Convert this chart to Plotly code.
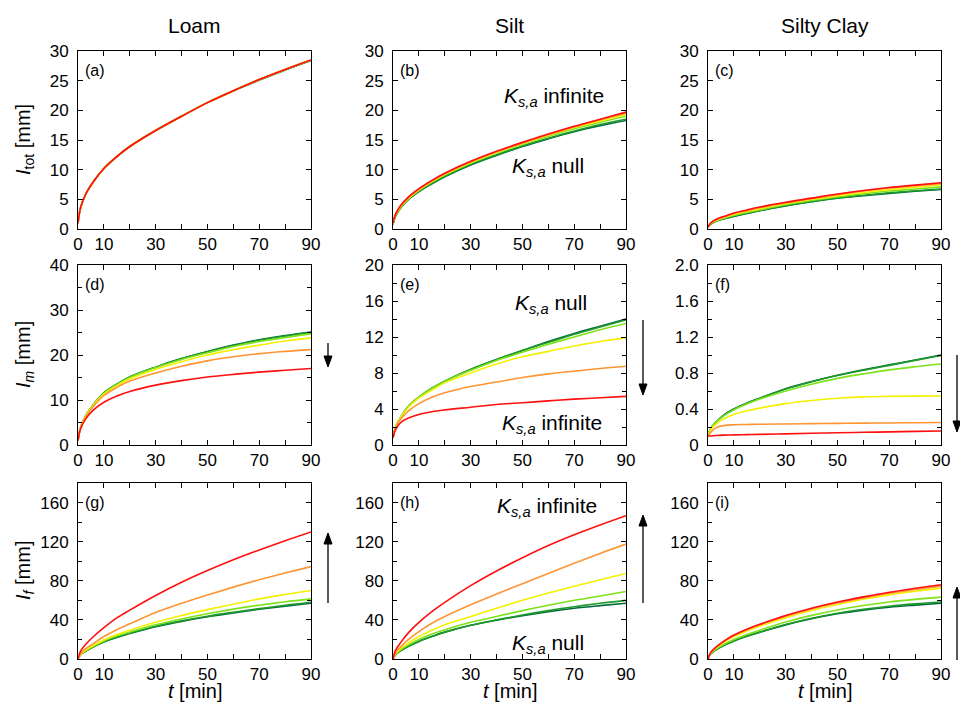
import plotly.graph_objects as go

W, H = 960, 702

# time grid [min]
T = [0, 1, 3, 6, 10, 15, 20, 30, 40, 50, 60, 70, 80, 90]

COLUMNS = ["Loam", "Silt", "Silty Clay"]
PANEL_LABELS = ["(a)", "(b)", "(c)", "(d)", "(e)", "(f)", "(g)", "(h)", "(i)"]
SERIES = ["darkgreen", "green", "lightgreen", "yellow", "orange", "red"]
COLORS = {"darkgreen": "#006b3c", "green": "#1e9a2a", "lightgreen": "#7ee21a",
          "yellow": "#f4f000", "orange": "#ff9433", "red": "#ff1010"}

# ---- (a) I_tot, Loam
a_darkgreen = [1.0, 3.6, 5.9, 8.0, 10.2, 12.2, 13.9, 16.6, 19.0, 21.3, 23.3, 25.1, 26.8, 28.4]
a_green = [1.0, 3.6, 5.9, 8.0, 10.2, 12.2, 13.9, 16.6, 19.0, 21.3, 23.3, 25.1, 26.8, 28.4]
a_lightgreen = [1.0, 3.6, 5.9, 8.0, 10.2, 12.2, 13.9, 16.6, 19.0, 21.3, 23.3, 25.2, 26.9, 28.5]
a_yellow = [1.0, 3.6, 5.9, 8.0, 10.2, 12.2, 13.9, 16.6, 19.0, 21.3, 23.3, 25.2, 26.9, 28.5]
a_orange = [1.0, 3.6, 5.9, 8.0, 10.2, 12.2, 13.9, 16.6, 19.0, 21.3, 23.3, 25.2, 26.9, 28.5]
a_red = [1.0, 3.6, 5.9, 8.0, 10.2, 12.2, 13.9, 16.6, 19.0, 21.3, 23.3, 25.2, 26.9, 28.5]

# ---- (b) I_tot, Silt
b_darkgreen = [0.8, 2.2, 3.6, 5.0, 6.3, 7.6, 8.8, 10.8, 12.4, 13.9, 15.2, 16.4, 17.4, 18.3]
b_green = [0.8, 2.2, 3.6, 5.0, 6.3, 7.7, 8.9, 10.9, 12.5, 14.0, 15.3, 16.5, 17.6, 18.5]
b_lightgreen = [0.9, 2.3, 3.7, 5.1, 6.5, 7.9, 9.1, 11.1, 12.8, 14.3, 15.6, 16.9, 18.0, 19.0]
b_yellow = [0.9, 2.4, 3.8, 5.2, 6.6, 8.0, 9.2, 11.2, 12.9, 14.4, 15.8, 17.1, 18.2, 19.3]
b_orange = [1.0, 2.5, 3.9, 5.3, 6.7, 8.1, 9.3, 11.3, 13.0, 14.5, 15.9, 17.2, 18.4, 19.5]
b_red = [1.0, 2.5, 4.0, 5.4, 6.8, 8.2, 9.4, 11.4, 13.1, 14.6, 16.0, 17.3, 18.5, 19.7]

# ---- (c) I_tot, Silty Clay
c_darkgreen = [0.3, 0.8, 1.3, 1.7, 2.1, 2.6, 3.1, 3.9, 4.6, 5.2, 5.6, 6.0, 6.35, 6.65]
c_green = [0.3, 0.8, 1.3, 1.7, 2.15, 2.65, 3.1, 3.95, 4.65, 5.25, 5.7, 6.1, 6.45, 6.75]
c_lightgreen = [0.3, 0.85, 1.35, 1.8, 2.3, 2.8, 3.25, 4.1, 4.8, 5.4, 5.95, 6.4, 6.75, 7.1]
c_yellow = [0.3, 0.9, 1.45, 1.9, 2.45, 2.95, 3.4, 4.25, 5.0, 5.6, 6.15, 6.65, 7.05, 7.45]
c_orange = [0.3, 0.95, 1.55, 2.0, 2.6, 3.1, 3.6, 4.4, 5.1, 5.8, 6.4, 6.9, 7.3, 7.65]
c_red = [0.3, 1.0, 1.6, 2.1, 2.7, 3.2, 3.7, 4.5, 5.2, 5.9, 6.5, 7.0, 7.4, 7.8]

# ---- (d) I_m, Loam
d_darkgreen = [1.0, 3.9, 6.5, 9.0, 11.6, 13.5, 15.1, 17.3, 19.2, 20.8, 22.2, 23.4, 24.3, 25.1]
d_green = [1.0, 3.9, 6.5, 9.0, 11.6, 13.5, 15.1, 17.3, 19.2, 20.7, 22.1, 23.3, 24.2, 25.0]
d_lightgreen = [1.0, 3.9, 6.5, 9.0, 11.5, 13.4, 15.0, 17.2, 19.0, 20.5, 21.9, 23.0, 23.9, 24.7]
d_yellow = [1.0, 3.9, 6.4, 8.9, 11.3, 13.2, 14.7, 16.8, 18.5, 20.0, 21.2, 22.2, 23.1, 23.8]
d_orange = [1.0, 3.8, 6.2, 8.6, 11.0, 12.8, 14.2, 16.0, 17.5, 18.7, 19.6, 20.3, 20.8, 21.2]
d_red = [1.0, 3.6, 5.8, 7.8, 9.5, 10.9, 11.9, 13.3, 14.3, 15.1, 15.7, 16.2, 16.6, 17.0]

# ---- (e) I_m, Silt
e_darkgreen = [0.8, 2.0, 3.1, 4.3, 5.3, 6.3, 7.1, 8.4, 9.5, 10.5, 11.5, 12.4, 13.2, 14.0]
e_green = [0.8, 2.0, 3.1, 4.3, 5.3, 6.3, 7.1, 8.4, 9.5, 10.5, 11.4, 12.3, 13.1, 13.9]
e_lightgreen = [0.8, 2.0, 3.1, 4.3, 5.3, 6.3, 7.1, 8.3, 9.4, 10.3, 11.2, 12.0, 12.8, 13.5]
e_yellow = [0.8, 2.0, 3.1, 4.2, 5.2, 6.1, 6.9, 8.0, 9.0, 9.8, 10.4, 11.0, 11.5, 11.9]
e_orange = [0.8, 1.9, 2.9, 3.8, 4.6, 5.3, 5.8, 6.5, 7.0, 7.5, 7.9, 8.2, 8.5, 8.75]
e_red = [0.8, 1.7, 2.5, 3.0, 3.4, 3.7, 3.9, 4.2, 4.5, 4.7, 4.9, 5.1, 5.25, 5.4]

# ---- (f) I_m, Silty Clay
f_darkgreen = [0.10, 0.18, 0.25, 0.33, 0.40, 0.465, 0.52, 0.625, 0.705, 0.775, 0.835, 0.89, 0.945, 1.0]
f_green = [0.10, 0.18, 0.25, 0.33, 0.40, 0.465, 0.52, 0.622, 0.702, 0.772, 0.83, 0.885, 0.94, 0.995]
f_lightgreen = [0.10, 0.18, 0.25, 0.32, 0.39, 0.455, 0.51, 0.60, 0.675, 0.74, 0.79, 0.835, 0.87, 0.90]
f_yellow = [0.10, 0.17, 0.23, 0.29, 0.34, 0.38, 0.41, 0.46, 0.495, 0.52, 0.535, 0.54, 0.543, 0.545]
f_orange = [0.10, 0.14, 0.19, 0.215, 0.225, 0.228, 0.23, 0.234, 0.237, 0.24, 0.243, 0.245, 0.248, 0.25]
f_red = [0.10, 0.10, 0.105, 0.11, 0.112, 0.115, 0.118, 0.124, 0.13, 0.136, 0.141, 0.146, 0.151, 0.156]

# ---- (g) I_f, Loam
g_darkgreen = [0, 4.5, 8, 12.5, 17.5, 22, 26, 33, 38.5, 43.2, 47.2, 50.8, 54, 57]
g_green = [0, 4.5, 8, 12.5, 17.8, 22.5, 26.5, 33.5, 39, 43.8, 47.8, 51.5, 55, 58]
g_lightgreen = [0, 4.5, 8.5, 13, 18.5, 23.5, 27.5, 35, 41, 46.3, 51, 55, 58.5, 61.5]
g_yellow = [0, 5, 9, 14, 19.5, 25, 29.5, 37.5, 44.5, 50.5, 56, 61.5, 66, 70]
g_orange = [0, 5.5, 10.5, 16, 23, 30, 36, 47.5, 57, 65.5, 73.5, 81, 88, 94.5]
g_red = [0, 8, 15, 23, 32, 42, 50, 65, 78.5, 90.5, 101.5, 111.5, 121, 130]

# ---- (h) I_f, Silt
h_darkgreen = [0, 4.5, 8.5, 13, 18, 23, 27.5, 34.5, 39.7, 44.3, 48.4, 51.9, 54.6, 57]
h_green = [0, 4.5, 8.5, 13, 18, 23, 27.5, 34.5, 40, 45, 49.5, 53.5, 57, 60]
h_lightgreen = [0, 5, 9.5, 14.5, 20, 25.5, 30, 37.5, 43.5, 49.5, 55, 60, 64.5, 69]
h_yellow = [0, 5.5, 10.5, 16.5, 23, 29.5, 35, 43.5, 52, 60, 67.5, 74.5, 81, 87.5]
h_orange = [0, 6.5, 12.5, 20, 28, 36.5, 43.5, 55.5, 66.5, 77, 87.5, 98, 108, 117.5]
h_red = [0, 9, 17, 27, 37.5, 48.5, 58, 75, 90, 103.5, 116, 127, 137, 146.5]

# ---- (i) I_f, Silty Clay
i_darkgreen = [0, 5, 9.2, 13.8, 18.5, 23.2, 27.3, 34.9, 41.1, 46.2, 50, 53, 55.1, 57]
i_green = [0, 5, 9.2, 13.8, 18.5, 23.3, 27.5, 35.2, 41.6, 46.8, 50.8, 54, 56.4, 58.3]
i_lightgreen = [0, 5.3, 9.8, 14.8, 20, 25, 29.5, 37.8, 44.6, 50.2, 54.7, 58.3, 61, 63.3]
i_yellow = [0, 6, 11, 16.8, 22.9, 28.5, 33.5, 42.3, 49.6, 55.7, 61.1, 65.6, 69.3, 72.5]
i_orange = [0, 6.3, 11.7, 17.6, 24, 30, 35, 43.8, 51.2, 57.3, 62.5, 67.2, 71, 74.5]
i_red = [0, 6.5, 12, 18, 24.5, 30.5, 35.5, 44.5, 52, 58.2, 63.5, 68.3, 72.3, 76]

PANELS = [
    [a_darkgreen, a_green, a_lightgreen, a_yellow, a_orange, a_red],
    [b_darkgreen, b_green, b_lightgreen, b_yellow, b_orange, b_red],
    [c_darkgreen, c_green, c_lightgreen, c_yellow, c_orange, c_red],
    [d_darkgreen, d_green, d_lightgreen, d_yellow, d_orange, d_red],
    [e_darkgreen, e_green, e_lightgreen, e_yellow, e_orange, e_red],
    [f_darkgreen, f_green, f_lightgreen, f_yellow, f_orange, f_red],
    [g_darkgreen, g_green, g_lightgreen, g_yellow, g_orange, g_red],
    [h_darkgreen, h_green, h_lightgreen, h_yellow, h_orange, h_red],
    [i_darkgreen, i_green, i_lightgreen, i_yellow, i_orange, i_red],
]

# x ticks
X_TICKVALS = [0, 10, 30, 50, 70, 90]
X_TICKTEXT = ["0", "10", "30", "50", "70", "90"]
X_MINOR = [20, 40, 60, 80]

# y axes per panel: (range max, tick values, tick labels, minor dtick)
Y_SPECS = [
    (30, [0, 5, 10, 15, 20, 25, 30], ["0", "5", "10", "15", "20", "25", "30"], None),
    (30, [0, 5, 10, 15, 20, 25, 30], ["0", "5", "10", "15", "20", "25", "30"], None),
    (30, [0, 5, 10, 15, 20, 25, 30], ["0", "5", "10", "15", "20", "25", "30"], None),
    (40, [0, 10, 20, 30, 40], ["0", "10", "20", "30", "40"], 5),
    (20, [0, 4, 8, 12, 16, 20], ["0", "4", "8", "12", "16", "20"], 2),
    (2.0, [0, 0.4, 0.8, 1.2, 1.6, 2.0], ["0", "0.4", "0.8", "1.2", "1.6", "2.0"], 0.2),
    (180, [0, 40, 80, 120, 160], ["0", "40", "80", "120", "160"], 20),
    (180, [0, 40, 80, 120, 160], ["0", "40", "80", "120", "160"], 20),
    (180, [0, 40, 80, 120, 160], ["0", "40", "80", "120", "160"], 20),
]

# layout geometry in pixels
COL_X = [(78, 311), (393, 626), (708, 941)]
ROW_Y = [(51, 229), (265, 445), (483, 659)]

FONT = "Arial, Liberation Sans, Helvetica, sans-serif"

fig = go.Figure()
layout = dict(width=W, height=H, margin=dict(l=0, r=0, t=0, b=0),
              paper_bgcolor="white", plot_bgcolor="white", showlegend=False,
              font=dict(family=FONT, color="black", size=17))
annotations = []
shapes = []

for p in range(9):
    r, c = divmod(p, 3)
    k = p + 1
    xa = "x" if k == 1 else f"x{k}"
    ya = "y" if k == 1 else f"y{k}"
    for name, vals in zip(SERIES, PANELS[p]):
        fig.add_trace(go.Scatter(x=T, y=vals, mode="lines", xaxis=xa, yaxis=ya,
                                 line=dict(color=COLORS[name], width=1.6, shape="spline",
                                           smoothing=1.0),
                                 hoverinfo="skip"))
    x0, x1 = COL_X[c]
    y0, y1 = ROW_Y[r]
    ymax, tv, tt, mdt = Y_SPECS[p]
    xkey = "xaxis" if k == 1 else f"xaxis{k}"
    ykey = "yaxis" if k == 1 else f"yaxis{k}"
    layout[xkey] = dict(domain=[x0 / W, x1 / W], anchor=ya, range=[0, 90],
                        tickmode="array", tickvals=X_TICKVALS, ticktext=X_TICKTEXT,
                        ticks="inside", ticklen=5, tickcolor="black", tickwidth=1,
                        minor=dict(tickmode="array", tickvals=X_MINOR, ticks="inside",
                                   ticklen=5, tickcolor="black", showgrid=False),
                        showline=True, linecolor="black", linewidth=1, mirror="allticks",
                        showgrid=False, zeroline=False, automargin=False,
                        tickfont=dict(size=17, family=FONT, color="black"))
    ydict = dict(domain=[1 - y1 / H, 1 - y0 / H], anchor=xa, range=[0, ymax],
                 tickmode="array", tickvals=tv, ticktext=tt,
                 ticks="inside", ticklen=5, tickcolor="black", tickwidth=1,
                 ticklabelstandoff=5,
                 showline=True, linecolor="black", linewidth=1, mirror="allticks",
                 showgrid=False, zeroline=False, automargin=False,
                 tickfont=dict(size=17, family=FONT, color="black"))
    if mdt is not None:
        ydict["minor"] = dict(dtick=mdt, ticks="inside", ticklen=4, tickcolor="black",
                              showgrid=False)
    layout[ykey] = ydict
    # panel label
    annotations.append(dict(text=PANEL_LABELS[p], x=(x0 + 5) / W, y=1 - (y0 + 19) / H,
                            xref="paper", yref="paper", xanchor="left", yanchor="middle",
                            showarrow=False, font=dict(size=16, family=FONT)))

# column titles
for c, name in enumerate(COLUMNS):
    x0, x1 = COL_X[c]
    annotations.append(dict(text=name, x=(x0 + x1) / 2 / W, y=1 - 25 / H, xref="paper",
                            yref="paper", xanchor="center", yanchor="middle",
                            showarrow=False, font=dict(size=21, family=FONT)))

# y axis titles
YTITLES = ["<i>I</i><sub>tot</sub> [mm]", "<i>I<sub>m</sub></i> [mm]", "<i>I<sub>f</sub></i> [mm]"]
YT_CENTER = [140, 355, 571]
for r in range(3):
    annotations.append(dict(text=YTITLES[r], x=24 / W, y=1 - YT_CENTER[r] / H, xref="paper",
                            yref="paper", xanchor="center", yanchor="middle", textangle=-90,
                            showarrow=False, font=dict(size=20, family=FONT)))

# x axis titles
for c in range(3):
    x0, x1 = COL_X[c]
    annotations.append(dict(text="<i>t</i> [min]", x=(x0 + x1) / 2 / W, y=1 - 691 / H,
                            xref="paper", yref="paper", xanchor="center", yanchor="middle",
                            showarrow=False, font=dict(size=20, family=FONT)))

# K_s,a labels
KS = "<i>K<sub>s,a</sub></i>"
KS_LABELS = [
    (KS + " infinite", 502, 97),
    (KS + " null", 510, 167),
    (KS + " null", 513, 304),
    (KS + " infinite", 500, 424),
    (KS + " infinite", 495, 507),
    (KS + " null", 510, 644),
]
for txt, px, py in KS_LABELS:
    annotations.append(dict(text=txt, x=px / W, y=1 - py / H, xref="paper", yref="paper",
                            xanchor="left", yanchor="middle", showarrow=False,
                            font=dict(size=21, family=FONT)))

# trend arrows drawn as shapes: (x, tip y, tail y) in pixels
ARROWS = [(328, 367, 343), (643, 395, 320), (957, 432, 355),
          (328, 533, 603), (643, 515, 603), (957, 587, 660)]
HEAD_L, HEAD_W = 11, 4
for ax_, tip, tail in ARROWS:
    d = 1 if tip > tail else -1  # +1 pointing down
    base = tip - d * HEAD_L
    shapes.append(dict(type="line", xref="paper", yref="paper",
                       x0=ax_ / W, x1=ax_ / W, y0=1 - tail / H, y1=1 - base / H,
                       line=dict(color="black", width=1.3)))
    path = (f"M {ax_ / W} {1 - tip / H} L {(ax_ - HEAD_W) / W} {1 - base / H} "
            f"L {(ax_ + HEAD_W) / W} {1 - base / H} Z")
    shapes.append(dict(type="path", xref="paper", yref="paper", path=path,
                       fillcolor="black", line=dict(color="black", width=1)))

layout["annotations"] = annotations
layout["shapes"] = shapes
fig.update_layout(**layout)
fig.write_html("out.html", config={"displayModeBar": False},
               post_script="document.body.style.margin='0';document.body.style.padding='0';"
                           "document.body.style.overflow='hidden';")
